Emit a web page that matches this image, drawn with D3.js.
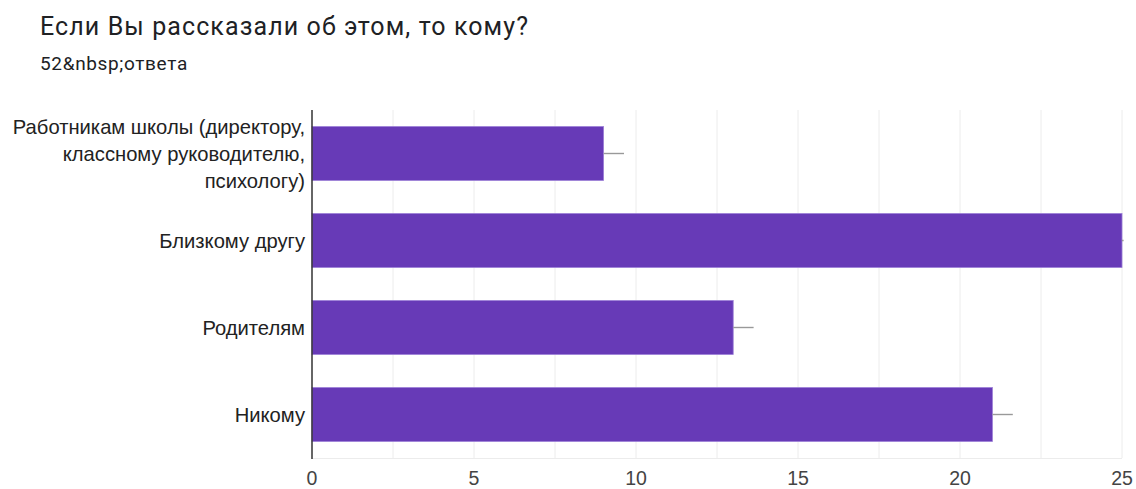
<!DOCTYPE html>
<html><head><meta charset="utf-8">
<script src="https://cdn.jsdelivr.net/npm/d3@7"></script>
<style>html,body{margin:0;padding:0;background:#fff;}svg{display:block;}</style>
</head><body>
<svg id="c" width="1136" height="489"></svg>
<script>
const categories = [
  ["Работникам школы (директору,", "классному руководителю,", "психологу)"],
  ["Близкому другу"],
  ["Родителям"],
  ["Никому"]
];
const values = [9, 25, 13, 21];
const errors = [0.63, 0.05, 0.63, 0.63];
const xTicks = [0, 5, 10, 15, 20, 25];
const gridTicks = [2.5, 5, 7.5, 10, 12.5, 15, 17.5, 20, 22.5, 25];
const title = "Если Вы рассказали об этом, то кому?";
const subtitle = "52&nbsp;ответа";

(function () {
const svg = d3.select("#c");
const font = "Roboto, 'Noto Sans', Arial, sans-serif";
const afont = "'Liberation Sans', Arial, sans-serif";
const pLeft = 312, pRight = 1122, pTop = 110, pBottom = 458;

const x = d3.scaleLinear().domain([0, 25]).range([pLeft, pRight]);
const y = d3.scaleBand().domain(d3.range(categories.length)).range([pTop, pBottom]).paddingInner(0.38).paddingOuter(0.19);

svg.append("text").attr("x", 40).attr("y", 35).attr("font-family", font).attr("font-size", 25).attr("letter-spacing", 1.1).attr("fill", "#202124").text(title);
svg.append("text").attr("x", 40).attr("y", 70).attr("font-family", font).attr("font-size", 19).attr("letter-spacing", 0.65).attr("fill", "#202124").text(subtitle);

svg.append("g").selectAll("line").data(gridTicks).join("line")
  .attr("x1", d => x(d)).attr("x2", d => x(d)).attr("y1", pTop).attr("y2", pBottom)
  .attr("stroke", "#ececec").attr("stroke-width", 1);
svg.append("line").attr("x1", pLeft).attr("x2", pRight).attr("y1", pBottom + 0.5).attr("y2", pBottom + 0.5).attr("stroke", "#ececec");

svg.append("g").selectAll("rect").data(values).join("rect")
  .attr("x", x(0)).attr("y", (d, i) => y(i)).attr("width", d => x(d) - x(0)).attr("height", y.bandwidth())
  .attr("fill", "#673ab7").attr("stroke", "#9c7fd6").attr("stroke-width", 0.8);

svg.append("g").selectAll("line").data(values).join("line")
  .attr("x1", d => x(d)).attr("x2", (d, i) => x(d + errors[i]))
  .attr("y1", (d, i) => y(i) + y.bandwidth() / 2).attr("y2", (d, i) => y(i) + y.bandwidth() / 2)
  .attr("stroke", "#999").attr("stroke-width", 1.4);

svg.append("line").attr("x1", pLeft).attr("x2", pLeft).attr("y1", pTop).attr("y2", pBottom + 1).attr("stroke", "#333").attr("stroke-width", 1.5);

const lh = 27;
const yl = svg.append("g");
categories.forEach((lines, i) => {
  const cy = y(i) + y.bandwidth() / 2;
  const t = yl.append("text").attr("text-anchor", "end").attr("font-family", afont).attr("font-size", 20.2).attr("fill", "#222");
  lines.forEach((ln, j) => {
    t.append("tspan").attr("x", 305).attr("y", cy + 7 + (j - (lines.length - 1) / 2) * lh).text(ln);
  });
});

svg.append("g").selectAll("text").data(xTicks).join("text")
  .attr("x", d => x(d)).attr("y", 485).attr("text-anchor", "middle")
  .attr("font-family", afont).attr("font-size", 19.5).attr("fill", "#444").text(d => d);
})();
</script>
</body></html>
